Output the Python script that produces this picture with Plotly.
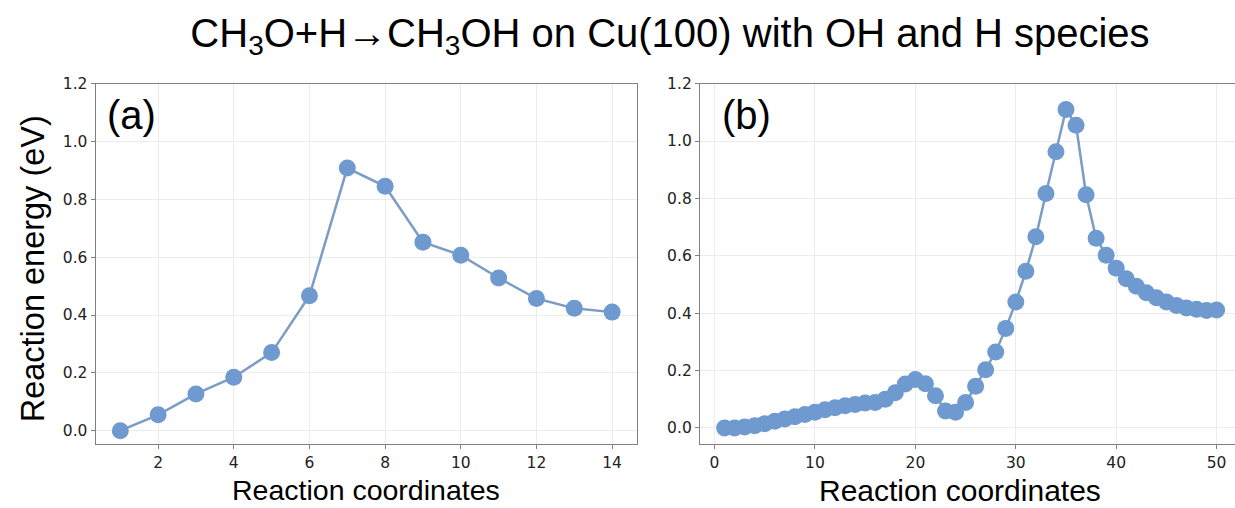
import plotly.graph_objects as go

# ---- data ----
coord_a = [1, 2, 3, 4, 5, 6, 7, 8, 9, 10, 11, 12, 13, 14]
energy_a = [0.0, 0.055, 0.127, 0.185, 0.270, 0.467, 0.908, 0.845, 0.652, 0.607,
            0.528, 0.457, 0.423, 0.410]

coord_b = [1, 2, 3, 4, 5, 6, 7, 8, 9, 10,
           11, 12, 13, 14, 15, 16, 17, 18, 19, 20,
           21, 22, 23, 24, 25, 26, 27, 28, 29, 30,
           31, 32, 33, 34, 35, 36, 37, 38, 39, 40,
           41, 42, 43, 44, 45, 46, 47, 48, 49, 50]
energy_b = [0.000, 0.000, 0.003, 0.008, 0.015, 0.023, 0.031, 0.039, 0.047, 0.055,
            0.063, 0.070, 0.077, 0.082, 0.087, 0.089, 0.100, 0.123, 0.153, 0.169,
            0.154, 0.112, 0.059, 0.055, 0.089, 0.145, 0.203, 0.265, 0.347, 0.439,
            0.546, 0.666, 0.817, 0.963, 1.110, 1.055, 0.813, 0.661, 0.602, 0.557,
            0.520, 0.494, 0.471, 0.454, 0.439, 0.427, 0.418, 0.414, 0.409, 0.411]

yticks = [0.0, 0.2, 0.4, 0.6, 0.8, 1.0, 1.2]
ytick_text = ["0.0", "0.2", "0.4", "0.6", "0.8", "1.0", "1.2"]
xticks_a = [2, 4, 6, 8, 10, 12, 14]
xticks_b = [0, 10, 20, 30, 40, 50]

title_text = "CH<sub>3</sub>O+H\u2192CH<sub>3</sub>OH on Cu(100) with OH and H species"

# ---- styling ----
W, H = 1235, 508
marker_color = "#6e9ad0"
line_color = "#7b9cc6"
spine = "#808080"
grid = "#ececec"
tickfont = dict(family="DejaVu Sans", size=15.5, color="#222222")

fig = go.Figure()
fig.add_trace(go.Scatter(x=coord_a, y=energy_a, mode="lines+markers",
                         line=dict(color=line_color, width=2.5),
                         marker=dict(color=marker_color, size=17),
                         xaxis="x", yaxis="y", showlegend=False))
fig.add_trace(go.Scatter(x=coord_b, y=energy_b, mode="lines+markers",
                         line=dict(color=line_color, width=2.5),
                         marker=dict(color=marker_color, size=17),
                         xaxis="x2", yaxis="y2", showlegend=False))

top_px, bot_px = 76, 442.7
ydom = [1 - bot_px / H, 1 - top_px / H]

axis_common = dict(showline=True, linecolor=spine, linewidth=1.3,
                   showgrid=True, gridcolor=grid, gridwidth=1,
                   ticks="outside", ticklen=4, tickcolor=spine, tickwidth=1,
                   tickfont=tickfont, zeroline=False)

fig.update_layout(
    width=W, height=H,
    margin=dict(l=0, r=0, t=0, b=0),
    paper_bgcolor="white", plot_bgcolor="white",
    xaxis=dict(domain=[95.7 / W, 636.7 / W], range=[0.35, 14.65],
               tickvals=xticks_a, mirror=True, anchor="y", **axis_common),
    yaxis=dict(domain=ydom, range=[-0.0455, 1.2], tickvals=yticks,
               ticktext=ytick_text, mirror=True, anchor="x", **axis_common),
    xaxis2=dict(domain=[700 / W, 1.0], range=[-1.45, 51.83],
                tickvals=xticks_b, mirror=True, anchor="y2", **axis_common),
    yaxis2=dict(domain=ydom, range=[-0.0555, 1.2], tickvals=yticks,
                ticktext=ytick_text, mirror=False, anchor="x2", **axis_common),
    title=dict(text=title_text, x=670 / W, y=1 - 33 / H,
               xanchor="center", yanchor="middle",
               font=dict(family="Liberation Sans", size=40, color="black")),
)

label_font = dict(family="Liberation Sans", color="black")
fig.add_annotation(text="(a)", xref="paper", yref="paper", x=131 / W, y=1 - 108 / H,
                   xanchor="center", yanchor="middle", showarrow=False,
                   font=dict(size=40, **label_font))
fig.add_annotation(text="(b)", xref="paper", yref="paper", x=746 / W, y=1 - 108 / H,
                   xanchor="center", yanchor="middle", showarrow=False,
                   font=dict(size=40, **label_font))
fig.add_annotation(text="Reaction energy (eV)", xref="paper", yref="paper",
                   x=33 / W, y=1 - 265 / H, textangle=-90,
                   xanchor="center", yanchor="middle", showarrow=False,
                   font=dict(size=32.5, **label_font))
fig.add_annotation(text="Reaction coordinates", xref="paper", yref="paper",
                   x=366 / W, y=1 - 490 / H,
                   xanchor="center", yanchor="middle", showarrow=False,
                   font=dict(size=28.5, **label_font))
fig.add_annotation(text="Reaction coordinates", xref="paper", yref="paper",
                   x=960 / W, y=1 - 490 / H,
                   xanchor="center", yanchor="middle", showarrow=False,
                   font=dict(size=30, **label_font))

fig.write_html("out.html")
